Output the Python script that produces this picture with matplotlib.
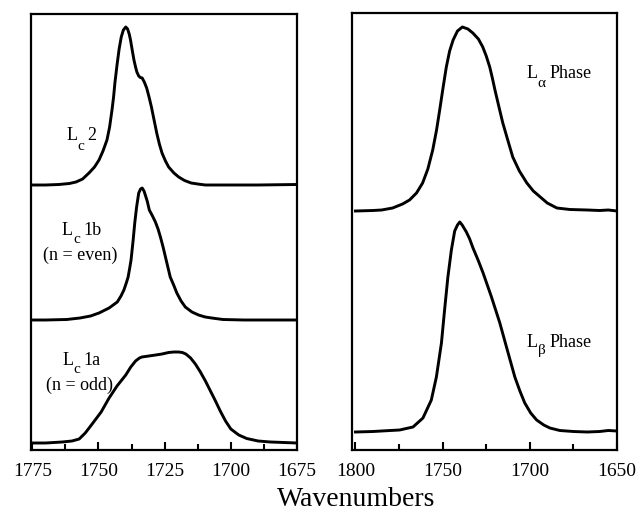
import matplotlib
matplotlib.use("Agg")
import matplotlib.pyplot as plt
from matplotlib.ticker import MultipleLocator

plt.rcParams["font.family"] = "Liberation Serif"

# left panel: crystalline phases (absorbance, arbitrary units above baseline)
lc2_wn = [1775, 1770, 1765, 1761, 1758.5, 1756, 1753.6, 1751.5, 1749.8, 1748.3,
          1746.8, 1745.8, 1744.9, 1744.3, 1743.8, 1743.0, 1742.2, 1741.4, 1740.6,
          1739.7, 1739.0, 1738.4, 1737.9, 1737.2, 1736.6, 1736.0, 1735.5, 1734.8,
          1734.2, 1733.5, 1732.7, 1731.8, 1730.9, 1730.0, 1729.0, 1728.0, 1727.0,
          1726.0, 1724.7, 1723.5, 1721.5, 1719.7, 1717.5, 1715, 1712, 1709.6,
          1700, 1690, 1675]
lc2_abs = [0, 0, 0.5, 1.5, 3, 6, 12, 18, 25, 34,
           45, 58, 75, 88, 102, 120, 136, 148, 155,
           158, 156, 151, 145, 134, 125, 118, 113, 109,
           107.5, 107, 103, 97, 88, 78, 65, 52, 41,
           32, 24, 18, 12, 8, 4.5, 2, 0.8, 0,
           0, 0, 0.5]

lc1b_wn = [1775, 1770, 1762, 1757, 1753, 1749.8, 1746, 1742.9, 1741.5, 1740.4,
           1739.5, 1738.8, 1738.2, 1737.7, 1737.3, 1736.9, 1736.3, 1735.6, 1734.8,
           1734.1, 1733.5, 1732.8, 1732.2, 1731.6, 1730.8, 1729.6, 1728.5, 1727.5,
           1726.6, 1725.6, 1724.7, 1723.8, 1722.9, 1721.6, 1720.4, 1718.8, 1717.2,
           1714.7, 1712.2, 1709.7, 1707.2, 1703, 1695, 1675]
lc1b_abs = [0, 0, 0.5, 2, 4, 7, 12, 18, 24, 30,
            37, 43, 52, 60, 70, 80, 97, 113, 127,
            131, 132, 129, 124, 119, 110, 104, 98, 91,
            83, 73, 63, 53, 43, 35, 27, 19, 13,
            8, 5, 3, 2, 0.5, 0, 0]

lc1a_wn = [1775, 1770, 1763.7, 1760, 1757.3, 1755, 1752.4, 1749, 1746, 1743,
           1739.7, 1737.8, 1736, 1734.5, 1733.6, 1731, 1728.4, 1726, 1723.5, 1721.5,
           1719.7, 1718.3, 1717, 1715.2, 1713.4, 1711.5, 1709.6, 1707.7, 1705.8, 1704,
           1702, 1700, 1697, 1694, 1689.7, 1685, 1680, 1675]
lc1a_abs = [0, 0, 1, 2, 4, 10, 19, 31, 45, 57,
            68, 76, 82, 85, 86, 87, 88, 89, 90.5, 91,
            91, 90.5, 89, 85, 79, 71, 62, 52, 42, 32,
            22, 14, 8, 4.5, 2, 1, 0.5, 0]

# right panel: L-alpha and L-beta phases
la_wn = [1800, 1790, 1785, 1778.7, 1773, 1769, 1765, 1761.5, 1758.5, 1755.7,
         1753.5, 1751.7, 1749.8, 1747.9, 1746, 1744, 1741.5, 1738.7, 1735.5, 1732.7,
         1729.5, 1727, 1725, 1723, 1721.5, 1720, 1717.7, 1715.5, 1712.5, 1709.8,
         1706, 1701.7, 1698, 1694, 1690, 1684.5, 1677, 1667, 1660, 1655, 1650]
la_abs = [0, 0.5, 1, 3, 7, 11, 18, 28, 42, 61,
          81, 101, 123, 144, 160, 171, 180, 184, 182, 178,
          172, 164, 155, 144, 133, 121, 104, 88, 70, 54,
          40, 28, 20, 14, 8, 3, 1.5, 1, 0.5, 1, 0]

lb_wn = [1800, 1790, 1780, 1774.7, 1767, 1761.3, 1756.5, 1753.6, 1750.7, 1748.9,
         1747, 1745, 1743.1, 1741.5, 1740.2, 1738.8, 1736.4, 1734.5, 1732.6, 1729.7,
         1726.8, 1724.4, 1722, 1719.6, 1717.2, 1715.3, 1713.4, 1711, 1708.6, 1705.7,
         1702.9, 1699.5, 1696.1, 1692, 1688.5, 1682.8, 1675, 1667, 1660, 1655, 1650]
lb_abs = [0, 0.5, 1.5, 2, 5, 14, 32, 55, 89, 122,
          155, 182, 201, 207, 210, 207, 200, 193, 184, 172,
          159, 147, 135, 122, 109, 97, 85, 70, 55, 41,
          29, 19, 12, 7, 4, 1.5, 0.5, 0, 0.5, 1.5, 1]

left_offsets = {"lc2": 265, "lc1b": 130, "lc1a": 7}
right_offsets = {"la": 239, "lb": 18}

W, H = 642, 513
fig = plt.figure(figsize=(W / 100, H / 100), dpi=100)
ax1 = fig.add_axes([31 / W, 63 / H, 266 / W, 436 / H])
ax2 = fig.add_axes([352 / W, 63 / H, 265 / W, 437 / H])

lw = 2.1
ax1.plot(lc2_wn, [a + left_offsets["lc2"] for a in lc2_abs], color="black", lw=lw)
ax1.plot(lc1b_wn, [a + left_offsets["lc1b"] for a in lc1b_abs], color="black", lw=lw)
ax1.plot(lc1a_wn, [a + left_offsets["lc1a"] for a in lc1a_abs], color="black", lw=lw)
ax2.plot(la_wn, [a + right_offsets["la"] for a in la_abs], color="black", lw=lw)
ax2.plot(lb_wn, [a + right_offsets["lb"] for a in lb_abs], color="black", lw=lw)

ax1.set_xlim(1775.5, 1675)
ax1.set_ylim(0, 436)
ax2.set_xlim(1802, 1650)
ax2.set_ylim(0, 437)

ax1.xaxis.set_major_locator(MultipleLocator(25))
ax1.xaxis.set_minor_locator(MultipleLocator(12.5))
ax2.xaxis.set_major_locator(MultipleLocator(50))
ax2.xaxis.set_minor_locator(MultipleLocator(25))

for ax in (ax1, ax2):
    ax.set_yticks([])
    for s in ax.spines.values():
        s.set_linewidth(1.6)
    ax.tick_params(axis="x", which="major", direction="in", length=6, width=1.5,
                   pad=9, labelsize=14)
    ax.tick_params(axis="x", which="minor", direction="in", length=4, width=1.5)


def put(x, y, s, size=13, ha="left"):
    # place text by pixel position (baseline) in the figure
    fig.text(x / W, 1 - y / H, s, fontsize=size, ha=ha, va="baseline")


# L with subscript built from pieces, like the original typesetting
put(67, 140, "L"); put(77, 150, "c", 11); put(87, 140, "2")
put(62, 235, "L"); put(73, 243, "c", 11); put(83, 235, "1b")
put(80, 260, "(n = even)", ha="center")
put(63, 365, "L"); put(73, 373, "c", 11); put(83, 365, "1a")
put(80, 390, "(n = odd)", ha="center")
put(527, 78, "L"); put(537, 87, "α", 11); put(550, 78, "Phase")
put(527, 347, "L"); put(538, 354, "β", 11); put(550, 347, "Phase")

fig.text(356 / W, 13 / H, "Wavenumbers", fontsize=20, ha="center", va="center")

fig.savefig("out.png", dpi=100)
